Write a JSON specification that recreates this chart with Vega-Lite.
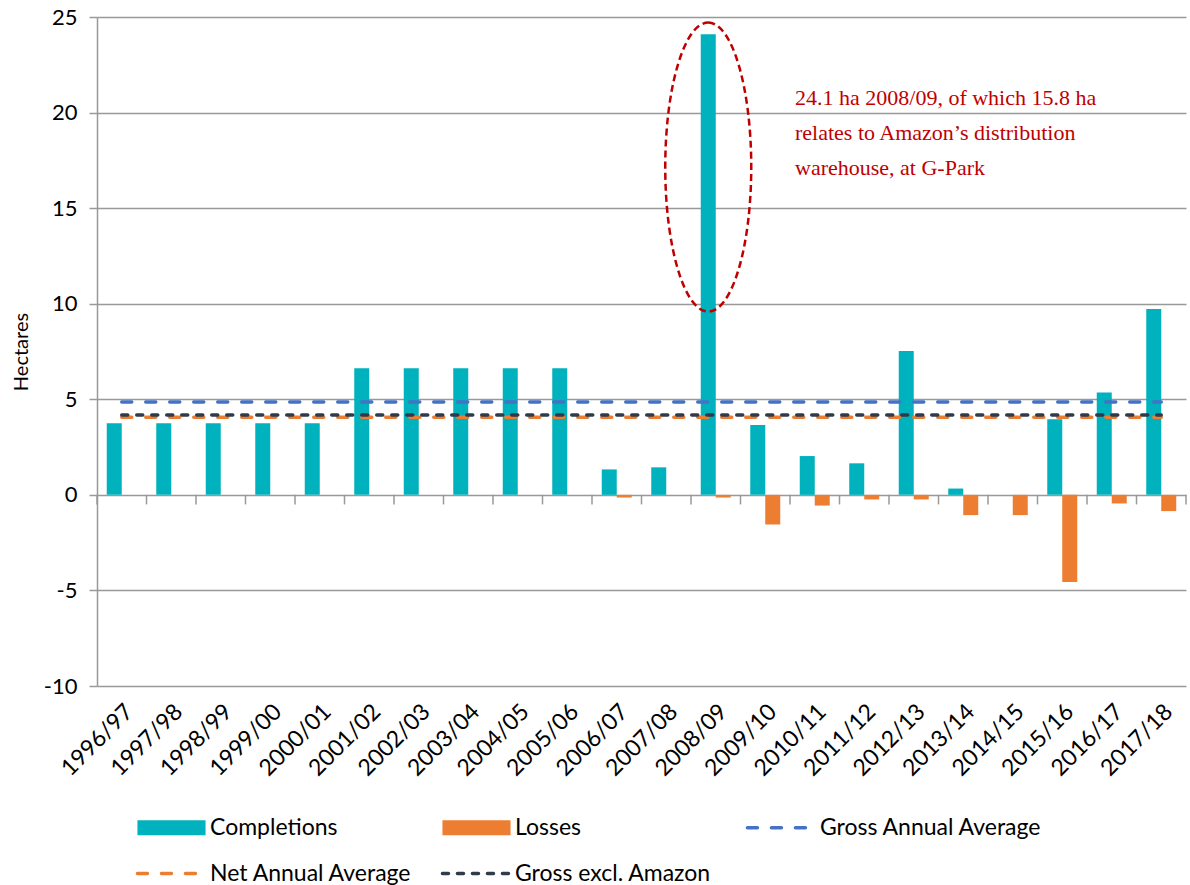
{
  "$schema": "https://vega.github.io/schema/vega-lite/v6.json",
  "width": 1089,
  "height": 669,
  "autosize": {"type": "none"},
  "padding": {"left": 97, "top": 17, "right": 4, "bottom": 199},
  "background": "white",
  "config": {"view": {"stroke": null}, "font": "Lato"},
  "datasets": {
    "years": [
      {"year": "1996/97"}, {"year": "1997/98"}, {"year": "1998/99"}, {"year": "1999/00"},
      {"year": "2000/01"}, {"year": "2001/02"}, {"year": "2002/03"}, {"year": "2003/04"},
      {"year": "2004/05"}, {"year": "2005/06"}, {"year": "2006/07"}, {"year": "2007/08"},
      {"year": "2008/09"}, {"year": "2009/10"}, {"year": "2010/11"}, {"year": "2011/12"},
      {"year": "2012/13"}, {"year": "2013/14"}, {"year": "2014/15"}, {"year": "2015/16"},
      {"year": "2016/17"}, {"year": "2017/18"}
    ],
    "bars": [
      {"year": "1996/97", "series": "Completions", "value": 3.74},
      {"year": "1997/98", "series": "Completions", "value": 3.74},
      {"year": "1998/99", "series": "Completions", "value": 3.74},
      {"year": "1999/00", "series": "Completions", "value": 3.74},
      {"year": "2000/01", "series": "Completions", "value": 3.74},
      {"year": "2001/02", "series": "Completions", "value": 6.63},
      {"year": "2002/03", "series": "Completions", "value": 6.63},
      {"year": "2003/04", "series": "Completions", "value": 6.63},
      {"year": "2004/05", "series": "Completions", "value": 6.63},
      {"year": "2005/06", "series": "Completions", "value": 6.63},
      {"year": "2006/07", "series": "Completions", "value": 1.33},
      {"year": "2007/08", "series": "Completions", "value": 1.44},
      {"year": "2008/09", "series": "Completions", "value": 24.1},
      {"year": "2009/10", "series": "Completions", "value": 3.65},
      {"year": "2010/11", "series": "Completions", "value": 2.03},
      {"year": "2011/12", "series": "Completions", "value": 1.65},
      {"year": "2012/13", "series": "Completions", "value": 7.53},
      {"year": "2013/14", "series": "Completions", "value": 0.33},
      {"year": "2015/16", "series": "Completions", "value": 3.95},
      {"year": "2016/17", "series": "Completions", "value": 5.35},
      {"year": "2017/18", "series": "Completions", "value": 9.73},
      {"year": "2006/07", "series": "Losses", "value": -0.14},
      {"year": "2008/09", "series": "Losses", "value": -0.14},
      {"year": "2009/10", "series": "Losses", "value": -1.55},
      {"year": "2010/11", "series": "Losses", "value": -0.56},
      {"year": "2011/12", "series": "Losses", "value": -0.24},
      {"year": "2012/13", "series": "Losses", "value": -0.24},
      {"year": "2013/14", "series": "Losses", "value": -1.06},
      {"year": "2014/15", "series": "Losses", "value": -1.06},
      {"year": "2015/16", "series": "Losses", "value": -4.56},
      {"year": "2016/17", "series": "Losses", "value": -0.45},
      {"year": "2017/18", "series": "Losses", "value": -0.85}
    ],
    "averages": [
      {"year": "1996/97", "series": "Gross Annual Average", "value": 4.86},
      {"year": "2017/18", "series": "Gross Annual Average", "value": 4.86},
      {"year": "1996/97", "series": "Net Annual Average", "value": 4.06},
      {"year": "2017/18", "series": "Net Annual Average", "value": 4.06},
      {"year": "1996/97", "series": "Gross excl. Amazon", "value": 4.18},
      {"year": "2017/18", "series": "Gross excl. Amazon", "value": 4.18}
    ]
  },
  "layer": [
    {
      "data": {"name": "bars"},
      "mark": {"type": "bar"},
      "encoding": {
        "x": {
          "field": "year", "type": "nominal",
          "scale": {"domain": ["1996/97","1997/98","1998/99","1999/00","2000/01","2001/02","2002/03","2003/04","2004/05","2005/06","2006/07","2007/08","2008/09","2009/10","2010/11","2011/12","2012/13","2013/14","2014/15","2015/16","2016/17","2017/18"], "paddingInner": 0, "paddingOuter": 0},
          "axis": {"title": null, "labelAngle": -45, "labelFontSize": 23, "labelColor": "#000", "domain": false, "ticks": false, "grid": false, "labelPadding": 14}
        },
        "xOffset": {"field": "series", "type": "nominal", "scale": {"domain": ["Completions", "Losses"], "paddingInner": 0, "paddingOuter": 0.65}},
        "y": {
          "field": "value", "type": "quantitative",
          "scale": {"domain": [-10, 25], "nice": false, "zero": false},
          "axis": {"title": "Hectares", "values": [-10, -5, 0, 5, 10, 15, 20, 25], "labelExpr": "'' + datum.value", "grid": true, "gridColor": "#999", "gridWidth": 1.5, "domainColor": "#999", "domainWidth": 1.5, "tickColor": "#999", "tickSize": 8, "tickWidth": 1.5, "labelFontSize": 22, "labelColor": "#000", "labelPadding": 12, "titleFontSize": 20, "titleFontWeight": "normal", "titleColor": "#000", "titlePadding": 12}
        },
        "color": {
          "field": "series", "type": "nominal",
          "scale": {"domain": ["Completions", "Losses", "Gross Annual Average", "Net Annual Average", "Gross excl. Amazon"], "range": ["#00B2BD", "#ED7D31", "#4472C4", "#ED7D31", "#2F3A4A"]},
          "legend": {
            "title": null, "orient": "none", "direction": "horizontal", "legendX": 63, "legendY": 799, "columns": 3, "gridAlign": "all",
            "columnPadding": 2, "rowPadding": 22, "padding": 0, "symbolSize": 900, "labelOffset": 27,
            "labelFontSize": 23, "labelColor": "#000", "labelFont": "Lato", "labelLimit": 400,
            "encode": {
              "symbols": {
                "update": {
                  "shape": {"signal": "(datum.value === 'Completions' || datum.value === 'Losses') ? 'M-2.27,-0.5H2.27V0.5H-2.27Z' : 'M-2.27,0H2.27'"},
                  "fill": {"signal": "(datum.value === 'Completions' || datum.value === 'Losses') ? scale('color', datum.value) : 'transparent'"},
                  "stroke": {"signal": "scale('color', datum.value)"},
                  "strokeWidth": {"signal": "(datum.value === 'Completions' || datum.value === 'Losses') ? 0 : 3.5"},
                  "strokeDash": {"signal": "datum.value === 'Gross excl. Amazon' ? [6, 9] : [10, 14]"},
                  "strokeCap": {"value": "round"},
                  "size": {"value": 900},
                  "opacity": {"value": 1}
                }
              }
            }
          }
        }
      }
    },
    {
      "data": {"name": "years"},
      "mark": {"type": "rule", "color": "#999", "strokeWidth": 1.5},
      "encoding": {
        "x": {"field": "year", "type": "nominal", "bandPosition": 0},
        "y": {"datum": 0},
        "y2": {"datum": -0.5}
      }
    },
    {
      "data": {"values": [{}]},
      "mark": {"type": "rule", "color": "#999", "strokeWidth": 1.5},
      "encoding": {
        "x": {"datum": "2017/18", "bandPosition": 1},
        "y": {"datum": 0},
        "y2": {"datum": -0.5}
      }
    },
    {
      "data": {"name": "averages"},
      "mark": {"type": "line", "strokeWidth": 3.5, "strokeCap": "round"},
      "encoding": {
        "x": {"field": "year", "type": "nominal"},
        "y": {"field": "value", "type": "quantitative"},
        "color": {"field": "series", "type": "nominal"},
        "strokeDash": {"field": "series", "type": "nominal", "scale": {"domain": ["Gross Annual Average", "Net Annual Average", "Gross excl. Amazon"], "range": [[10, 14], [10, 14], [6, 9]]}, "legend": null}
      }
    },
    {
      "data": {"values": [{}]},
      "mark": {"type": "point", "shape": "M0,-1A0.2976,1,0,1,1,0,1A0.2976,1,0,1,1,0,-1Z", "size": 83521, "filled": false, "stroke": "#C00000", "strokeWidth": 2.5, "strokeDash": [7, 4], "opacity": 1},
      "encoding": {
        "x": {"datum": "2008/09"},
        "xOffset": {"datum": "Completions"},
        "y": {"datum": 17.15}
      }
    },
    {
      "data": {"values": [{}]},
      "mark": {"type": "text", "text": "24.1 ha 2008/09, of which 15.8 ha\nrelates to Amazon’s distribution\nwarehouse, at G-Park", "lineBreak": "\n", "align": "left", "baseline": "alphabetic", "font": "Liberation Serif", "fontSize": 22, "color": "#C00000", "lineHeight": 35, "dx": 5},
      "encoding": {
        "x": {"datum": "2010/11", "bandPosition": 0},
        "y": {"datum": 20.42}
      }
    }
  ]
}
